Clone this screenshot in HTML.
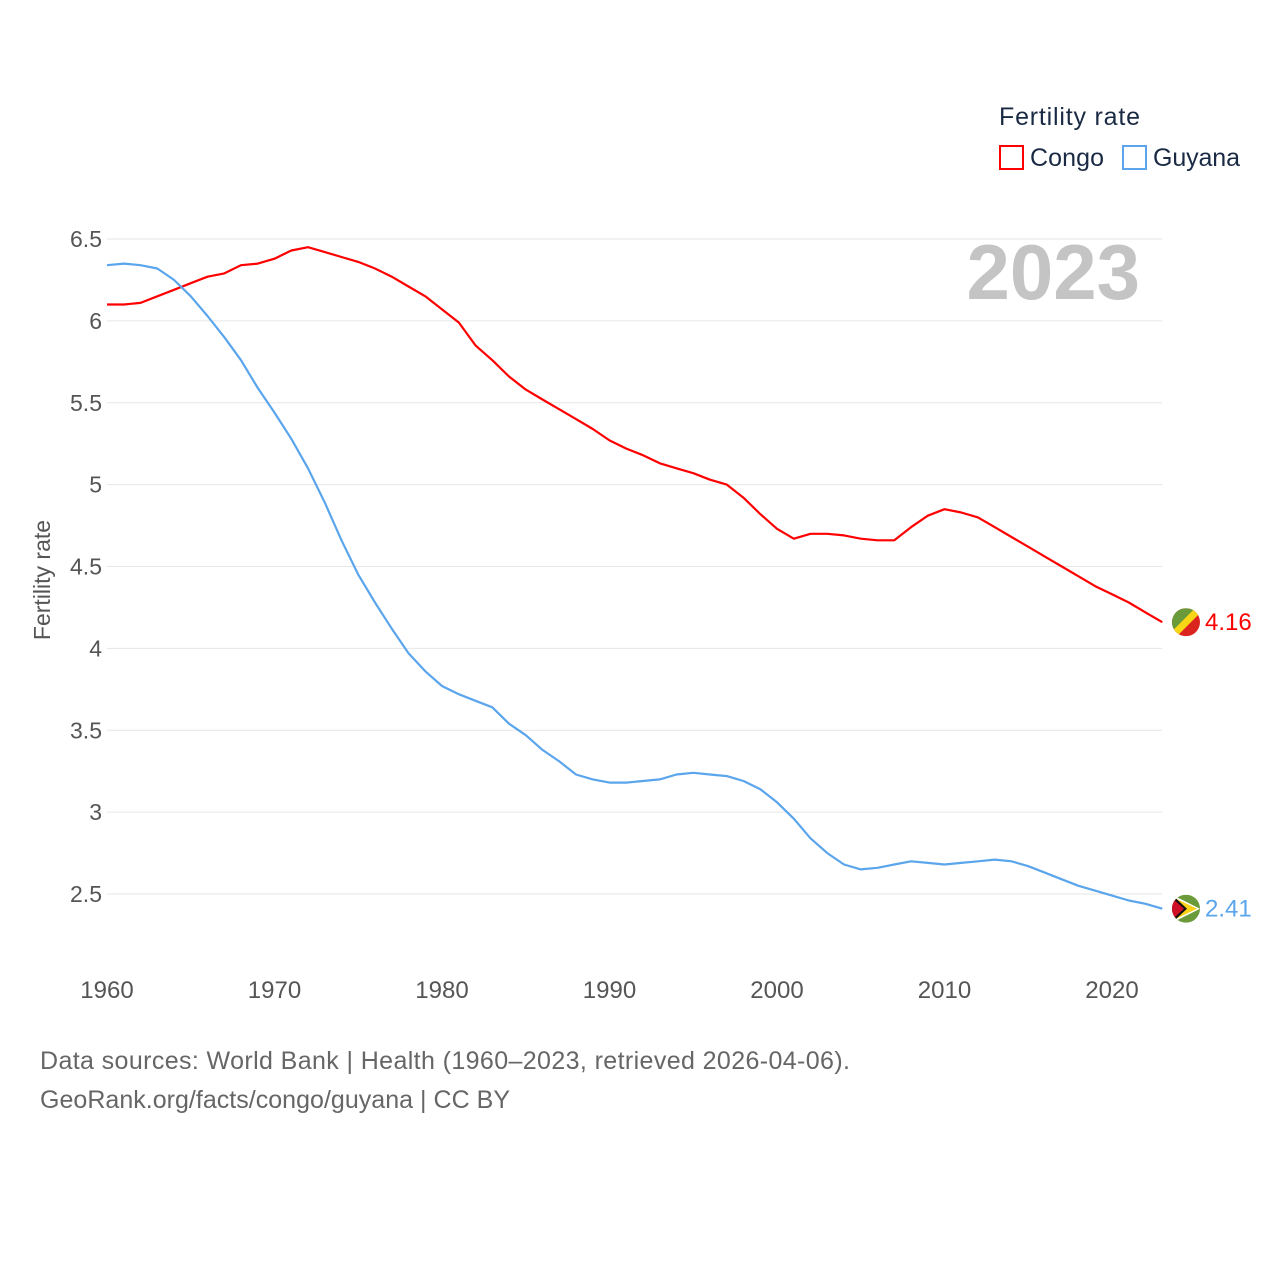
<!DOCTYPE html>
<html><head><meta charset="utf-8"><style>
body{margin:0;background:#fff;}
svg text{font-family:"Liberation Sans",sans-serif;}
</style></head><body>
<svg width="1280" height="1280" viewBox="0 0 1280 1280">
<defs>
<clipPath id="cc"><circle cx="1186" cy="0" r="14"/></clipPath>
</defs>
<g id="grid"></g>
<g id="yticks"></g>
<g id="xticks"></g>
<text x="50" y="580" font-size="23" fill="#555" text-anchor="middle" transform="rotate(-90 50 580)">Fertility rate</text>
<text x="1140" y="299" font-size="78" font-weight="bold" fill="#c4c4c4" text-anchor="end">2023</text>
<g>
<text x="999" y="125" font-size="25" fill="#1a2a44" textLength="141">Fertility rate</text>
<rect x="1000" y="146" width="23" height="23" fill="none" stroke="#f00" stroke-width="2"/>
<text x="1030" y="166" font-size="25" fill="#1a2a44" textLength="74">Congo</text>
<rect x="1123" y="146" width="23" height="23" fill="none" stroke="#5aa5ec" stroke-width="2"/>
<text x="1153" y="166" font-size="25" fill="#1a2a44" textLength="87">Guyana</text>
</g>
<g id="series"></g>
<text x="40" y="1069" font-size="25" fill="#666" textLength="810">Data sources: World Bank | Health (1960–2023, retrieved 2026-04-06).</text>
<text x="40" y="1108" font-size="25" fill="#666" textLength="470">GeoRank.org/facts/congo/guyana | CC BY</text>
</svg>
<script>
const years = [];for(let y=1960;y<=2023;y++)years.push(y);
const congo = [6.10,6.10,6.11,6.15,6.19,6.23,6.27,6.29,6.34,6.35,6.38,6.43,6.45,6.42,6.39,6.36,6.32,6.27,6.21,6.15,6.07,5.99,5.85,5.76,5.66,5.58,5.52,5.46,5.40,5.34,5.27,5.22,5.18,5.13,5.10,5.07,5.03,5.00,4.92,4.82,4.73,4.67,4.70,4.70,4.69,4.67,4.66,4.66,4.74,4.81,4.85,4.83,4.80,4.74,4.68,4.62,4.56,4.50,4.44,4.38,4.33,4.28,4.22,4.16];
const guyana = [6.34,6.35,6.34,6.32,6.25,6.15,6.03,5.90,5.76,5.59,5.44,5.28,5.10,4.89,4.66,4.45,4.28,4.12,3.97,3.86,3.77,3.72,3.68,3.64,3.54,3.47,3.38,3.31,3.23,3.20,3.18,3.18,3.19,3.20,3.23,3.24,3.23,3.22,3.19,3.14,3.06,2.96,2.84,2.75,2.68,2.65,2.66,2.68,2.70,2.69,2.68,2.69,2.70,2.71,2.70,2.67,2.63,2.59,2.55,2.52,2.49,2.46,2.44,2.41];
const yTicks = [2.5,3,3.5,4,4.5,5,5.5,6,6.5];
const xTicks = [1960,1970,1980,1990,2000,2010,2020];
const NS='http://www.w3.org/2000/svg';
const xs = y => 107 + (y-1960)*(1005/60);
const ys = v => 239 + (6.5-v)*163.75;
function mk(tag,attrs,parent,text){const e=document.createElementNS(NS,tag);for(const k in attrs)e.setAttribute(k,attrs[k]);if(text!==undefined)e.textContent=text;parent.appendChild(e);return e;}
const grid=document.getElementById('grid'),yt=document.getElementById('yticks'),xt=document.getElementById('xticks'),ser=document.getElementById('series');
yTicks.forEach(v=>{
  const l=mk('line',{x1:107,x2:1162,y1:ys(v),y2:ys(v),stroke:'#e6e6e6','stroke-width':1},grid);
  
  
  const t=mk('text',{x:102,y:ys(v)+8,'font-size':23,fill:'#555','text-anchor':'end'},yt,String(v));
  
  
});
xTicks.forEach(y=>{
  const t=mk('text',{x:xs(y),y:998,'font-size':24,fill:'#555','text-anchor':'middle'},xt,String(y));
  
  
});
function series(vals,color,name,label,flag){
  const d=vals.map((v,i)=>(i?'L':'M')+xs(years[i]).toFixed(1)+','+ys(v).toFixed(1)).join(' ');
  const p=mk('path',{d:d,fill:'none',stroke:color,'stroke-width':2.2,'stroke-linejoin':'round'},ser);
  
  
  const last=vals[vals.length-1];
  const cy=ys(last);
  const g=mk('g',{transform:'translate(0,'+cy.toFixed(1)+')','clip-path':'url(#cc)'},ser);
  
  
  if(flag==='congo'){
    mk('rect',{x:1172,y:-14,width:28,height:28,fill:'#dc241f'},g);
    mk('polygon',{points:'1172,-14 1200,-14 1172,14',fill:'#6a9a3a'},g);
    mk('line',{x1:1172,y1:14,x2:1200,y2:-14,stroke:'#f7d618','stroke-width':7},g);
  } else {
    mk('rect',{x:1172,y:-14,width:28,height:28,fill:'#6a9a3a'},g);
    mk('polygon',{points:'1172,-14 1200,0 1172,14',fill:'#fff'},g);
    mk('polygon',{points:'1172,-12 1197,0 1172,12',fill:'#fcd116'},g);
    mk('polygon',{points:'1172,-14 1187,0 1172,14',fill:'#111'},g);
    mk('polygon',{points:'1172,-11 1184,0 1172,11',fill:'#ce1126'},g);
  }
  const t=mk('text',{x:1205,y:cy+8,'font-size':24,fill:color},ser,label);
  
  
}
series(congo,'#f00','congo','4.16','congo');
series(guyana,'#5aa5ec','guyana','2.41','guyana');
</script>
</body></html>
